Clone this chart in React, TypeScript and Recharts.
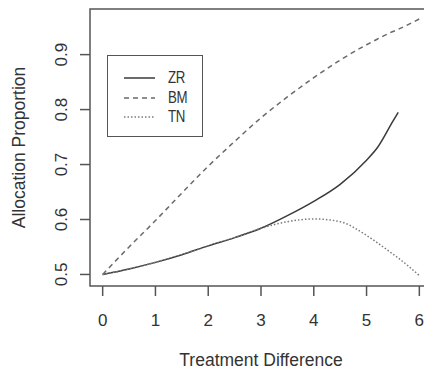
import { LineChart, Line, XAxis, YAxis, ReferenceArea } from "recharts";

const xValues = [0, 0.5, 1, 1.5, 2, 2.5, 3, 3.5, 4, 4.5, 5, 5.2, 5.5, 5.6, 6];
const zrValues = [0.5, 0.51, 0.522, 0.536, 0.552, 0.567, 0.584, 0.607, 0.633, 0.664, 0.708, 0.73, 0.779, 0.795, null];
const bmValues = [0.5, 0.55, 0.598, 0.648, 0.697, 0.742, 0.785, 0.823, 0.858, 0.89, 0.918, 0.928, 0.942, 0.946, 0.965];
const tnValues = [0.5, 0.51, 0.522, 0.536, 0.552, 0.567, 0.584, 0.596, 0.601, 0.596, 0.571, 0.558, 0.537, 0.53, 0.498];

const xTicks = [0, 1, 2, 3, 4, 5, 6];
const yTicks = [0.5, 0.6, 0.7, 0.8, 0.9];

const series = [
  { key: "zr", label: "ZR", color: "#3a3a3a", dash: undefined as string | undefined },
  { key: "bm", label: "BM", color: "#6a6a6a", dash: "5 4" },
  { key: "tn", label: "TN", color: "#7a7a7a", dash: "1.5 2" },
];

const data = xValues.map((x, i) => ({
  x,
  zr: zrValues[i],
  bm: bmValues[i],
  tn: tnValues[i],
}));

const font = "'Liberation Sans', Arial, sans-serif";

const YTick = (props: any) => {
  const { x, y, payload } = props;
  const ax = x - 11;
  return (
    <text
      x={ax}
      y={y}
      transform={`rotate(-90 ${ax} ${y})`}
      textAnchor="middle"
      fontSize={17}
      fill="#333"
      fontFamily={font}
    >
      {payload.value.toFixed(1)}
    </text>
  );
};

const LegendBox = () => (
  <div
    style={{
      position: "absolute",
      left: 107,
      top: 55,
      width: 94,
      height: 80,
      border: "1.5px solid #555",
      background: "#fff",
      fontFamily: font,
      fontSize: 17,
      color: "#333",
    }}
  >
    {series.map((s, i) => (
      <div
        key={s.key}
        style={{ position: "absolute", left: 16, top: 12 + i * 19.5, height: 20, display: "flex", alignItems: "center" }}
      >
        <svg width={31} height={4}>
          <line x1={0} y1={2} x2={31} y2={2} stroke={s.color} strokeWidth={1.5} strokeDasharray={s.dash} />
        </svg>
        <span
          style={{
            marginLeft: 13,
            display: "inline-block",
            transform: "scaleX(0.78)",
            transformOrigin: "left center",
            letterSpacing: -0.5,
          }}
        >
          {s.label}
        </span>
      </div>
    ))}
  </div>
);

export default function App() {
  return (
    <div style={{ position: "fixed", left: 0, top: 0, width: 424, height: 371, overflow: "hidden", background: "#fff" }}>
      <LineChart width={440} height={371} data={data} margin={{ top: 9, right: 8, bottom: 0, left: 0 }}>
        <ReferenceArea
          x1={-0.24}
          x2={6.24}
          y1={0.479}
          y2={0.983}
          fill="none"
          stroke="#555"
          strokeWidth={1.5}
          fillOpacity={0}
        />
        <XAxis
          dataKey="x"
          type="number"
          domain={[-0.24, 6.24]}
          ticks={xTicks}
          axisLine={false}
          tickSize={10}
          tickLine={{ stroke: "#555", strokeWidth: 1.5 }}
          tick={{ fontSize: 17, fill: "#333", fontFamily: font, dy: 16 }}
          height={85}
          label={{ value: "Treatment Difference", position: "insideBottom", offset: 5, fontSize: 17.5, fill: "#333", fontFamily: font }}
        />
        <YAxis
          type="number"
          domain={[0.479, 0.983]}
          ticks={yTicks}
          axisLine={false}
          tickSize={10}
          tickLine={{ stroke: "#555", strokeWidth: 1.5 }}
          tick={<YTick />}
          width={90}
          label={{
            value: "Allocation Proportion",
            angle: -90,
            position: "insideLeft",
            offset: 19,
            style: { textAnchor: "middle" },
            fontSize: 17.5,
            fill: "#333",
            fontFamily: font,
          }}
        />
        {series.map((s) => (
          <Line
            key={s.key}
            dataKey={s.key}
            type="monotone"
            stroke={s.color}
            strokeWidth={1.5}
            strokeDasharray={s.dash}
            dot={false}
            isAnimationActive={false}
            connectNulls={false}
          />
        ))}
      </LineChart>
      <LegendBox />
    </div>
  );
}
